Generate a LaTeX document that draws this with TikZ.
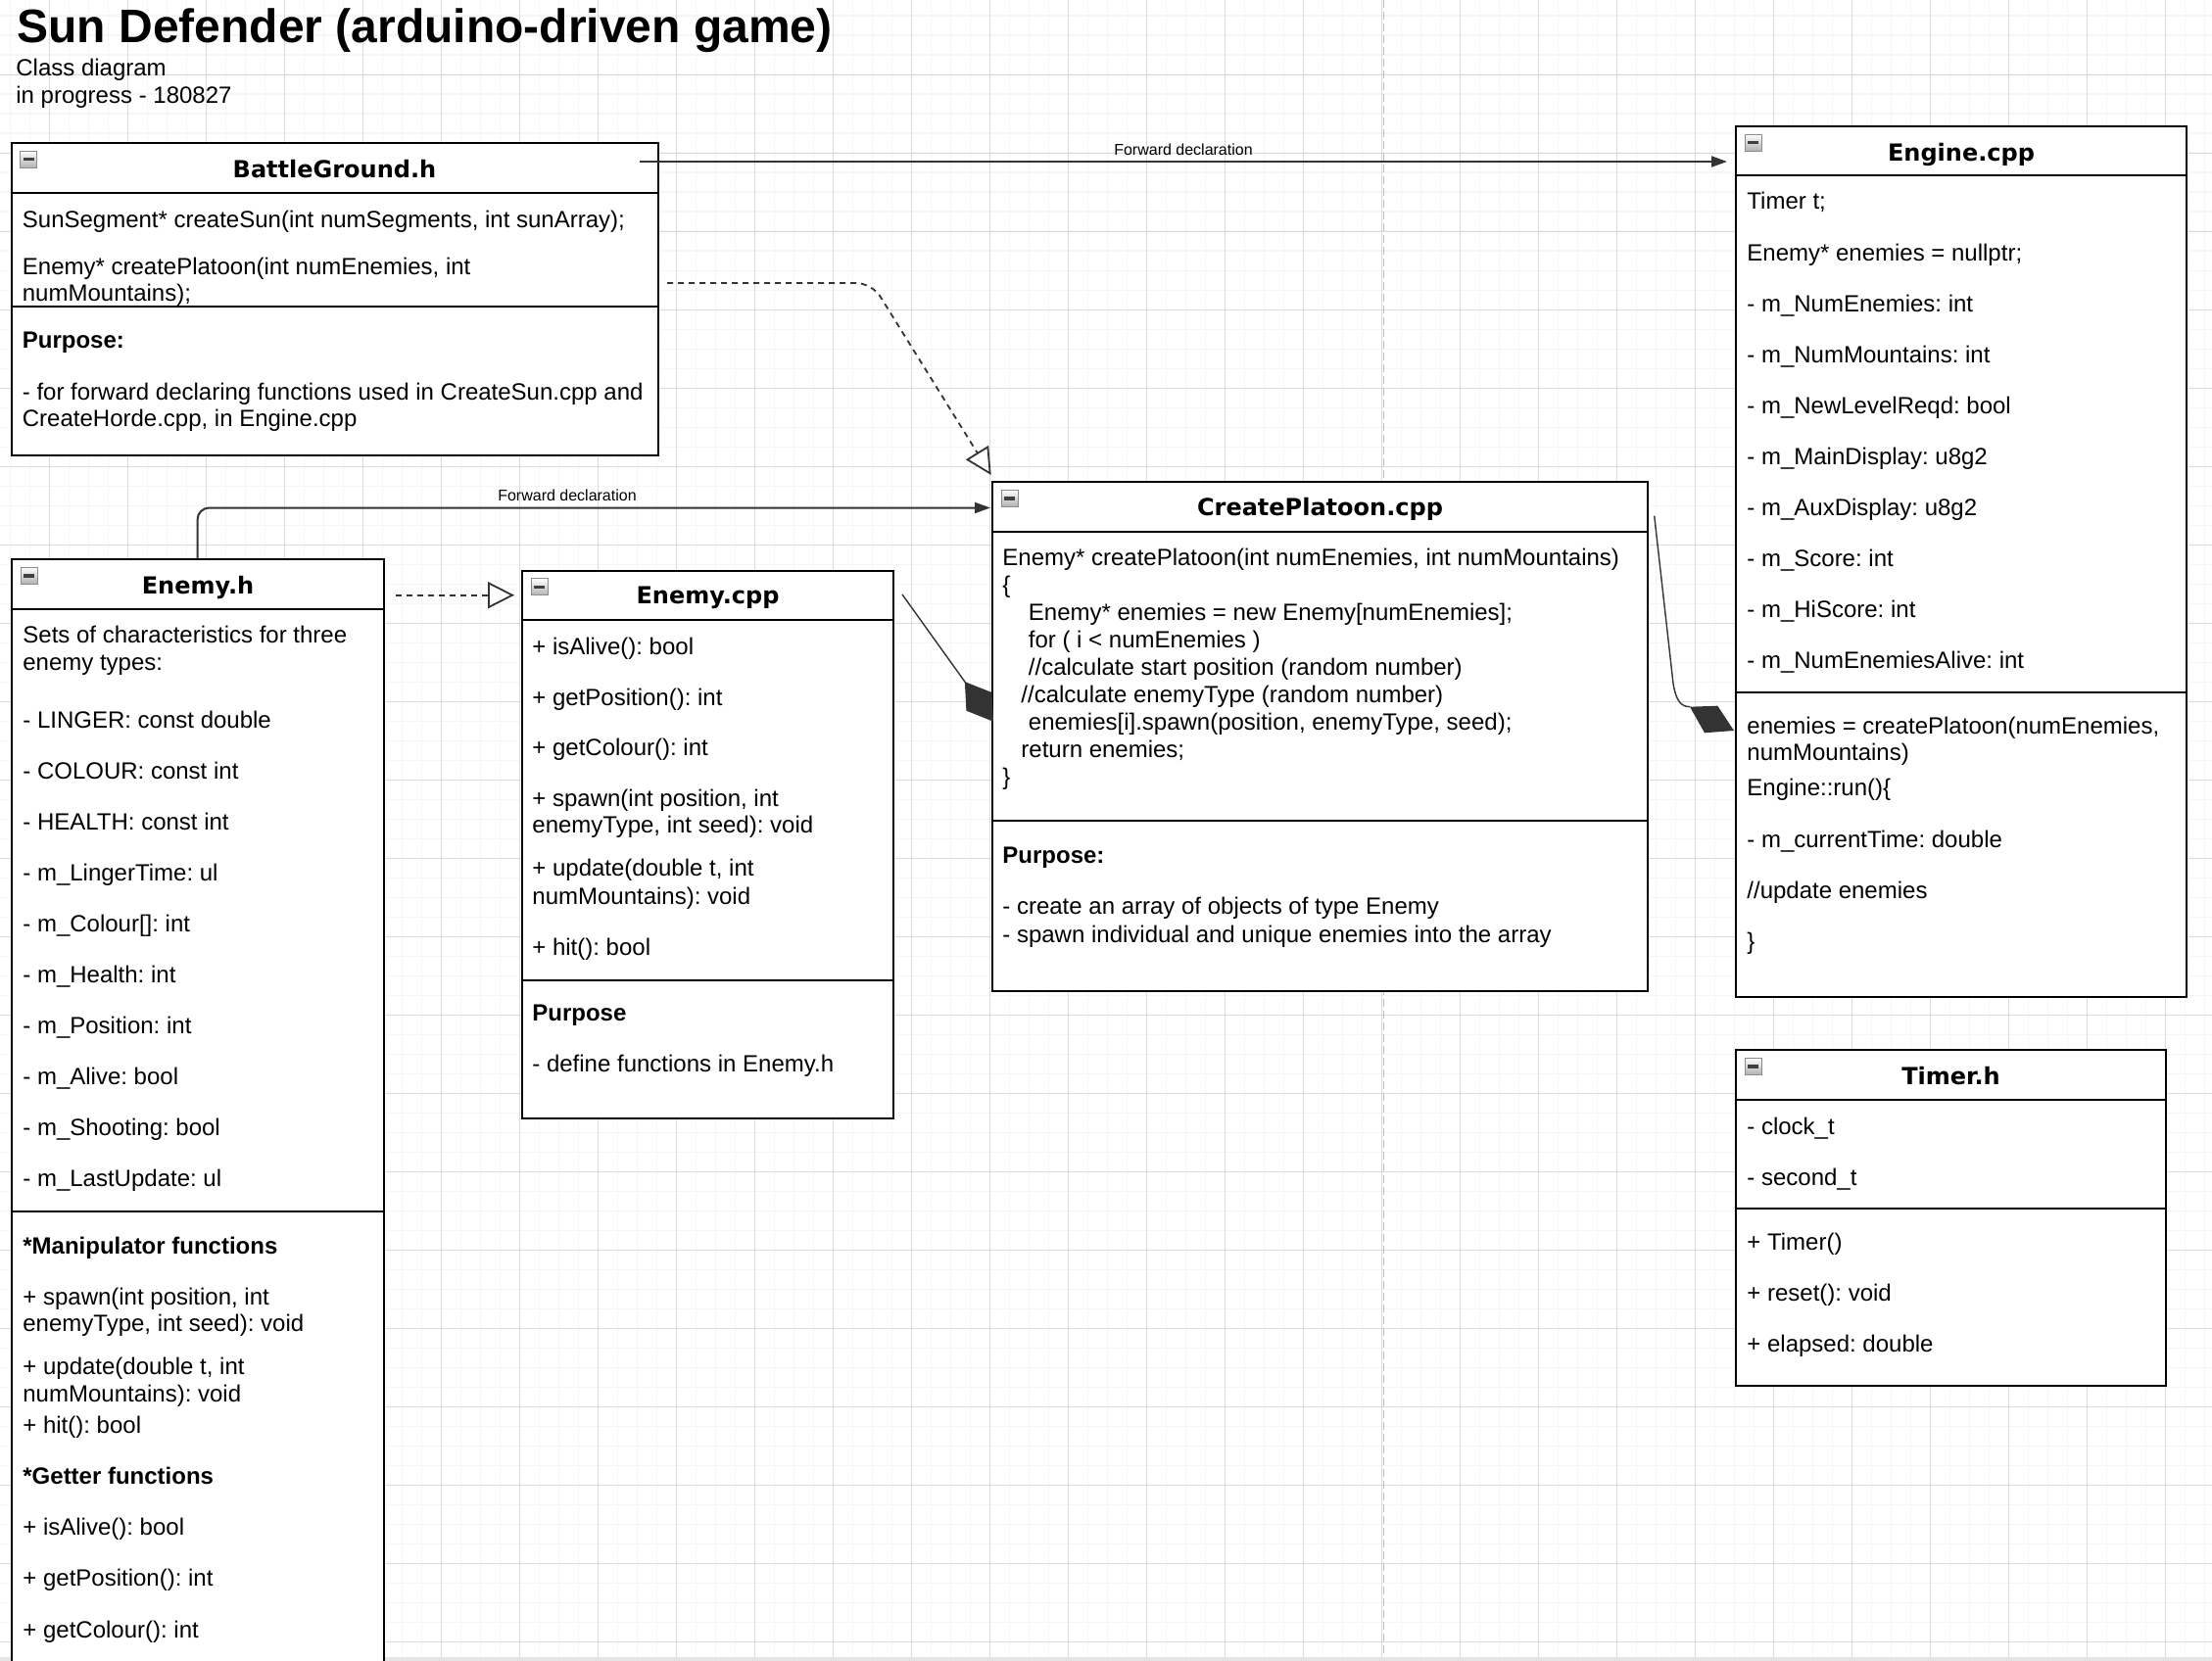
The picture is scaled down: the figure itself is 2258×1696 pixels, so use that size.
\documentclass[tikz,border=0pt]{standalone}
\usepackage{fontspec}
\setmainfont{Liberation Sans}
\newfontfamily\hdrfont{DejaVu Sans}
\usetikzlibrary{arrows.meta,calc}
\frenchspacing

\tikzset{
  gridminor/.style={draw=black!4, line width=0.8pt},
  gridmajor/.style={draw=black!14, line width=0.5pt},
  cbox/.style={draw=black, line width=1pt, fill=white, anchor=north west, inner sep=0pt},
  sepline/.style={draw=black, line width=1pt},
  txt/.style={anchor=base west, inner sep=0pt, font=\fontsize{12}{14}\selectfont\frenchspacing},
  hdr/.style={anchor=base, inner sep=0pt, font=\hdrfont\bfseries\fontsize{12}{14}\selectfont},
  conn/.style={draw=black!80, line width=1pt},
  thinconn/.style={draw=black!80, line width=0.7pt},
  lbl/.style={anchor=base, inner sep=0pt, font=\fontsize{8}{10}\selectfont},
  fwdtip/.style={-{Triangle[length=8pt,width=5.5pt]}},
  realtip/.style={-{Triangle[open,length=13.5pt,width=13.5pt]}},
}

\newcommand\drawsepline[2]{\draw[sepline] ($(#1.north west)+(0,#2)$) -- ($(#1.north east)+(0,#2)$);}
\newcommand\colicon[1]{%
  \shade[top color=white, bottom color=black!30, draw=black!45, line width=0.4pt]
    ($(#1.north west)+(10,9)$) rectangle ++(17,17);
  \fill[black!75] ($(#1.north west)+(13,16)$) rectangle ++(11,3.5);}
\newcommand\boxtexts[3]{%
  \foreach \yy/\ttx [count=\i] in {#3} \node[txt] (#1-t\i) at ($(#1.north west)+(#2,\yy)$) {\ttx};}

\begin{document}
\begin{tikzpicture}[x=0.5pt,y=-0.5pt]
\clip (0,0) rectangle (2258,1696);
\fill[white] (0,0) rectangle (2258,1696);
% grid
\foreach \i in {0,...,112} \draw[gridminor] ({10.3+20*\i},0) -- ++(0,1696);
\foreach \i in {0,...,84} \draw[gridminor] (0,{16.3+20*\i}) -- ++(2258,0);
\foreach \i in {0,...,27} \draw[gridmajor] ({50.3+80*\i},0) -- ++(0,1696);
\foreach \i in {0,...,20} \draw[gridmajor] (0,{76.3+80*\i}) -- ++(2258,0);
% page break marks
\draw[draw=black!25, line width=0.8pt, dash pattern=on 4pt off 2pt] (1412.6,0) -- (1412.6,1696);
\fill[black!10] (0,1692) rectangle (2258,1696);

% title
\node[anchor=base west, inner sep=0pt, font=\fontsize{24}{28}\selectfont\bfseries] (title) at (17,43.3) {Sun Defender (arduino-driven game)};
\node[txt] (sub1) at (16,77.3) {Class diagram};
\node[txt] (sub2) at (16,106) {in progress - 180827};

% ---------- boxes ----------
\node[cbox, minimum width=330pt, minimum height=159.65pt] (bg) at (10.5,145) {};
\node[cbox, minimum width=230pt, minimum height=444.3pt] (eng) at (1771,128) {};
\node[cbox, minimum width=334.5pt, minimum height=260pt] (cp) at (1012,491) {};
\node[cbox, minimum width=190pt, minimum height=575pt] (eh) at (11,570) {};
\node[cbox, minimum width=189.5pt, minimum height=279.4pt] (ec) at (532,581.7) {};
\node[cbox, minimum width=219.5pt, minimum height=171.5pt] (tm) at (1771,1071) {};

\drawsepline{bg}{51.7}\drawsepline{bg}{167.7}
\drawsepline{eng}{50.6}\drawsepline{eng}{579}
\drawsepline{cp}{52}\drawsepline{cp}{347}
\drawsepline{eh}{52}\drawsepline{eh}{667}
\drawsepline{ec}{51}\drawsepline{ec}{419.1}
\drawsepline{tm}{52}\drawsepline{tm}{163}

\colicon{bg}\colicon{eng}\colicon{cp}\colicon{eh}\colicon{ec}\colicon{tm}

\node[hdr] (bg-h) at ($(bg.north)+(0,36.5)$) {BattleGround.h};
\node[hdr] (eng-h) at ($(eng.north)+(0,36.5)$) {Engine.cpp};
\node[hdr] (cp-h) at ($(cp.north)+(0,35.7)$) {CreatePlatoon.cpp};
\node[hdr] (eh-h) at ($(eh.north)+(0,36.5)$) {Enemy.h};
\node[hdr] (ec-h) at ($(ec.north)+(0,35)$) {Enemy.cpp};
\node[hdr] (tm-h) at ($(tm.north)+(0,36.5)$) {Timer.h};

\boxtexts{bg}{12}{88/{SunSegment* createSun(int numSegments, int sunArray);},
  135/{Enemy* createPlatoon(int numEnemies, int},
  162/{numMountains);},
  210/{\bfseries Purpose:},
  263/{- for forward declaring functions used in CreateSun.cpp and},
  290/{CreateHorde.cpp, in Engine.cpp}}

\boxtexts{eng}{12}{86/{Timer t;},
  138/{Enemy* enemies = nullptr;},
  190/{- m\_NumEnemies: int},
  242/{- m\_NumMountains: int},
  294/{- m\_NewLevelReqd: bool},
  346/{- m\_MainDisplay: u8g2},
  398/{- m\_AuxDisplay: u8g2},
  450/{- m\_Score: int},
  502/{- m\_HiScore: int},
  554/{- m\_NumEnemiesAlive: int},
  621/{enemies = createPlatoon(numEnemies,},
  648/{numMountains)},
  684/{Engine::run()\{},
  737/{- m\_currentTime: double},
  789/{//update enemies},
  841/{\}}}

\foreach \xx/\yy/\ttx [count=\i] in {11/86/{Enemy* createPlatoon(int numEnemies, int numMountains)},
  11/114/{\{},
  37.5/142/{Enemy* enemies = new Enemy[numEnemies];},
  37.5/170/{for ( i < numEnemies )},
  37.5/198/{//calculate start position (random number)},
  30/226/{//calculate enemyType (random number)},
  37.5/254/{enemies[i].spawn(position, enemyType, seed);},
  30/282/{return enemies;},
  11/310/{\}},
  11/390/{\bfseries Purpose:},
  11/442/{- create an array of objects of type Enemy},
  11/471/{- spawn individual and unique enemies into the array}}
  \node[txt] (cp-t\i) at ($(cp.north west)+(\xx,\yy)$) {\ttx};

\boxtexts{eh}{12}{86/{Sets of characteristics for three},
  114/{enemy types:},
  173/{- LINGER: const double},
  225/{- COLOUR: const int},
  277/{- HEALTH: const int},
  329/{- m\_LingerTime: ul},
  381/{- m\_Colour[]: int},
  433/{- m\_Health: int},
  485/{- m\_Position: int},
  537/{- m\_Alive: bool},
  589/{- m\_Shooting: bool},
  641/{- m\_LastUpdate: ul},
  710/{\bfseries *Manipulator functions},
  762/{+ spawn(int position, int},
  789/{enemyType, int seed): void},
  833/{+ update(double t, int},
  861/{numMountains): void},
  893/{+ hit(): bool},
  945/{\bfseries *Getter functions},
  997/{+ isAlive(): bool},
  1049/{+ getPosition(): int},
  1102/{+ getColour(): int}}

\boxtexts{ec}{11}{86.6/{+ isAlive(): bool},
  138.3/{+ getPosition(): int},
  190/{+ getColour(): int},
  241.6/{+ spawn(int position, int},
  269/{enemyType, int seed): void},
  312.3/{+ update(double t, int},
  341.3/{numMountains): void},
  393.3/{+ hit(): bool},
  460.3/{\bfseries Purpose},
  512.3/{- define functions in Enemy.h}}

\boxtexts{tm}{12}{87/{- clock\_t},
  139/{- second\_t},
  205/{+ Timer()},
  257/{+ reset(): void},
  309/{+ elapsed: double}}

% ---------- connectors ----------
\draw[conn, fwdtip] ($(bg.north east)+(-19.5,20)$) -- ($(eng.north west)+(-8,37)$)
  node[lbl, midway, yshift=3.35pt] (fd1) {Forward declaration};

\draw[conn, fwdtip, rounded corners=6pt] ($(eh.north west)+(190.6,0)$) |- ($(cp.north west)+(-1,27.5)$);
\node[lbl] (fd2) at ($(cp.north west)+(-433,20.7)$) {Forward declaration};

\draw[conn, line width=0.9pt, dash pattern=on 3pt off 2.5pt, realtip, rounded corners=8pt]
  ($(bg.north east)+(8.5,144)$) -- ($(bg.north east)+(217.5,144)$) -- ($(cp.north west)+(-0.3,-6)$);

\draw[conn, line width=0.9pt, dash pattern=on 3pt off 2.5pt, realtip]
  ($(eh.north east)+(10.7,37.7)$) -- ($(ec.north west)+(-7,26)$);

\draw[thinconn, -{Diamond[length=25pt,width=16pt]}] ($(ec.north east)+(8,25.3)$) -- ($(cp.north west)+(2,245.7)$);

\draw[thinconn] ($(cp.north east)+(5.7,35.7)$) -- ($(eng.north west)+(-63,570)$)
  .. controls ($(eng.north west)+(-60,588)$) and ($(eng.north west)+(-55,593.5)$) .. ($(eng.north west)+(-46,593.7)$);
\fill[black!80] ($(eng.north west)+(-46,593.7)$) -- ($(eng.north west)+(-17.7,592.7)$)
  -- ($(eng.north west)+(-1,618)$) -- ($(eng.north west)+(-31,620.3)$) -- cycle;
\end{tikzpicture}
\end{document}
